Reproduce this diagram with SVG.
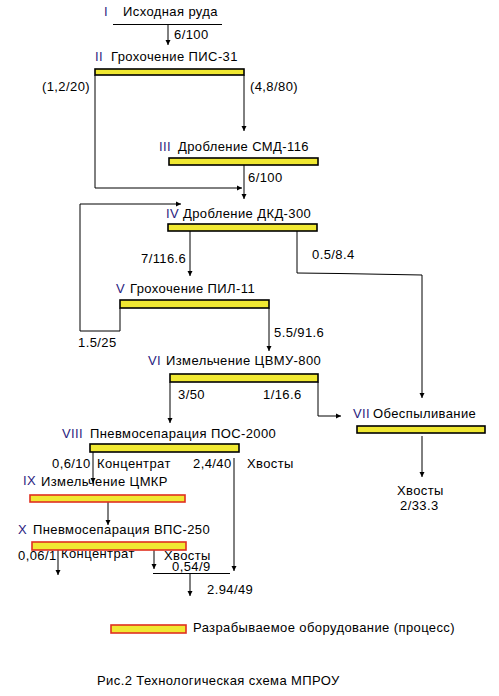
<svg xmlns="http://www.w3.org/2000/svg" width="499" height="696" viewBox="0 0 499 696">
<style>
text{font-family:"Liberation Sans",Arial,sans-serif;font-size:13px;letter-spacing:0.4px;fill:#000}
.n{fill:#2a2280}
.bar{fill:#f0e832;stroke:#000;stroke-width:1.6}
.rbar{fill:#f0e832;stroke:#e03020;stroke-width:1.6}
.ln{fill:none;stroke:#000;stroke-width:1}
</style>
<defs>
<marker id="ah" markerWidth="6" markerHeight="6" refX="5" refY="3" orient="auto" markerUnits="userSpaceOnUse">
<path d="M0,0.5 L5,3 L0,5.5 Z" fill="#000"/>
</marker>
</defs>
<rect width="499" height="696" fill="#fff"/>
<g id="connectors">
<line class="ln" x1="113" y1="24.5" x2="222" y2="24.5"/>
<line class="ln" x1="168" y1="25" x2="168" y2="45" marker-end="url(#ah)"/>
<polyline class="ln" points="95,75 95,188 242,188" marker-end="url(#ah)"/>
<line class="ln" x1="244" y1="75" x2="244" y2="131" marker-end="url(#ah)"/>
<line class="ln" x1="244" y1="165" x2="244" y2="199" marker-end="url(#ah)"/>
<line class="ln" x1="190" y1="231" x2="190" y2="276" marker-end="url(#ah)"/>
<polyline class="ln" points="297,231 297,273 339,273.5 422,275 422,398" marker-end="url(#ah)"/>
<polyline class="ln" points="120,308 120,331 80,331 80,204 181,204" marker-end="url(#ah)"/>
<line class="ln" x1="269" y1="308" x2="269" y2="351" marker-end="url(#ah)"/>
<line class="ln" x1="170" y1="382" x2="170" y2="423" marker-end="url(#ah)"/>
<polyline class="ln" points="318,382 318,416 341,416" marker-end="url(#ah)"/>
<line class="ln" x1="422" y1="436" x2="422" y2="477" marker-end="url(#ah)"/>
<line class="ln" x1="93" y1="452" x2="93" y2="483" marker-end="url(#ah)"/>
<line class="ln" x1="234" y1="458" x2="234" y2="571" marker-end="url(#ah)"/>
<line class="ln" x1="108" y1="502" x2="108" y2="525" marker-end="url(#ah)"/>
<line class="ln" x1="58" y1="550" x2="58" y2="575" marker-end="url(#ah)"/>
<line class="ln" x1="154" y1="550" x2="154" y2="569" marker-end="url(#ah)"/>
<line class="ln" x1="153" y1="573.5" x2="230" y2="573.5"/>
<line class="ln" x1="190" y1="573.5" x2="190" y2="596" marker-end="url(#ah)"/>
<text x="174" y="39">6/100</text>
<text x="42" y="91">(1,2/20)</text>
<text x="250" y="91">(4,8/80)</text>
<text x="248" y="182">6/100</text>
<text x="141" y="263">7/116.6</text>
<text x="312" y="259">0.5/8.4</text>
<text x="78" y="347">1.5/25</text>
<text x="274" y="337">5.5/91.6</text>
<text x="178" y="399">3/50</text>
<text x="263" y="399">1/16.6</text>
<text x="52" y="468">0,6/10</text>
<text x="97" y="468">Концентрат</text>
<text x="193" y="468">2,4/40</text>
<text x="247" y="468">Хвосты</text>
<text x="18" y="560">0,06/1</text>
<text x="61" y="558">Концентрат</text>
<text x="164" y="560">Хвосты</text>
<text x="172" y="571">0,54/9</text>
<text x="207" y="594">2.94/49</text>
<text x="397" y="495">Хвосты</text>
<text x="400" y="510">2/33.3</text>
</g>
<g id="n1"><text class="n" x="104" y="16">I</text><text x="123" y="16">Исходная руда</text></g>
<g id="n2"><text class="n" x="95" y="61">II</text><text x="111" y="61">Грохочение ПИС-31</text><rect class="bar" x="95" y="69" width="149" height="6"/></g>
<g id="n3"><text class="n" x="159" y="151">III</text><text x="178" y="151">Дробление СМД-116</text><rect class="bar" x="169" y="158" width="149" height="7"/></g>
<g id="n4"><text class="n" x="166" y="218">IV</text><text x="183" y="218">Дробление ДКД-300</text><rect class="bar" x="168" y="224" width="149" height="7"/></g>
<g id="n5"><text class="n" x="116" y="293">V</text><text x="130" y="293">Грохочение ПИЛ-11</text><rect class="bar" x="120" y="300" width="149" height="8"/></g>
<g id="n6"><text class="n" x="148" y="365">VI</text><text x="166" y="365">Измельчение ЦВМУ-800</text><rect class="bar" x="170" y="374" width="148" height="8"/></g>
<g id="n7"><text class="n" x="353" y="418">VII</text><text x="373" y="418">Обеспыливание</text><rect class="bar" x="357" y="426" width="128" height="7"/></g>
<g id="n8"><text class="n" x="62" y="438">VIII</text><text x="90" y="438">Пневмосепарация ПОС-2000</text><rect class="bar" x="90" y="444" width="149" height="8"/></g>
<g id="n9"><text class="n" x="23" y="485">IX</text><text x="41" y="486">Измельчение ЦМКР</text><rect class="rbar" x="30" y="495" width="155" height="7"/></g>
<g id="n10"><text class="n" x="18" y="534">X</text><text x="33" y="534">Пневмосепарация ВПС-250</text><rect class="rbar" x="32" y="542" width="154" height="8"/></g>
<g id="legend"><rect class="rbar" x="111" y="625" width="75" height="8"/><text x="193" y="632">Разрабываемое оборудование (процесс)</text></g>
<g id="caption"><text x="97" y="685">Рис.2 Технологическая схема МПРОУ</text></g>
</svg>
